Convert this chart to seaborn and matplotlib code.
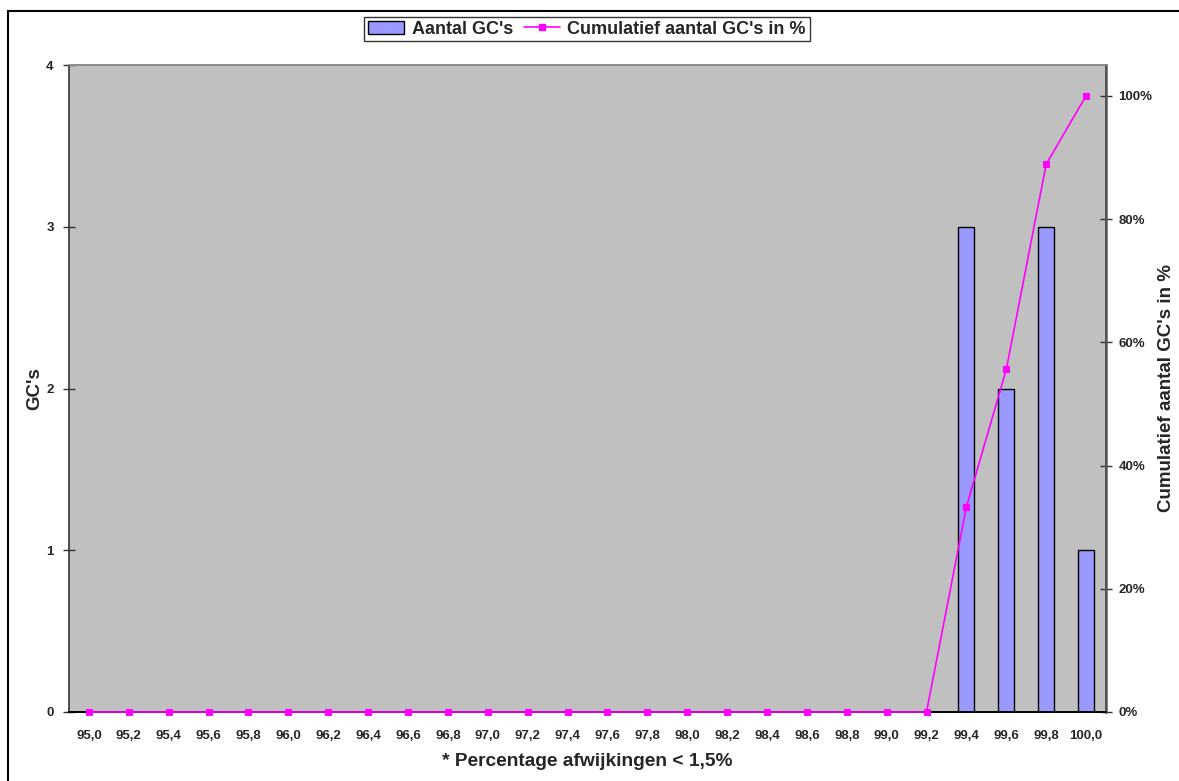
import matplotlib
matplotlib.use("Agg")
import matplotlib.pyplot as plt
import seaborn as sns
import pandas as pd
import numpy as np
from matplotlib.patches import Rectangle, Patch
from matplotlib.lines import Line2D

categories = ["95,0", "95,2", "95,4", "95,6", "95,8", "96,0", "96,2", "96,4", "96,6", "96,8",
              "97,0", "97,2", "97,4", "97,6", "97,8", "98,0", "98,2", "98,4", "98,6", "98,8",
              "99,0", "99,2", "99,4", "99,6", "99,8", "100,0"]
counts = [0, 0, 0, 0, 0, 0, 0, 0, 0, 0,
          0, 0, 0, 0, 0, 0, 0, 0, 0, 0,
          0, 0, 3, 2, 3, 1]
cumulative_pct = [0, 0, 0, 0, 0, 0, 0, 0, 0, 0,
                  0, 0, 0, 0, 0, 0, 0, 0, 0, 0,
                  0, 0, 33.3, 55.6, 88.9, 100.0]
left_ticks = [0, 1, 2, 3, 4]
right_ticks = [0, 20, 40, 60, 80, 100]
right_labels = ["0%", "20%", "40%", "60%", "80%", "100%"]

sns.set_style("white")
plt.rcParams['font.family'] = ['Liberation Sans', 'DejaVu Sans']
plt.rcParams['font.weight'] = 'bold'

df = pd.DataFrame({"cat": categories, "count": counts, "cum": cumulative_pct})

fig = plt.figure(figsize=(11.79, 7.81), dpi=100)
ax = fig.add_axes([69/1179, 1-712/781, (1106-69)/1179, (712-65)/781])
ax.set_facecolor("#C0C0C0")

sns.barplot(data=df, x="cat", y="count", ax=ax, color="#9999FF", width=0.4,
            edgecolor="black", linewidth=1.0, saturation=1)
ax.set_xlim(-0.5, len(categories) - 0.5)
ax.set_ylim(0, 4)
ax.set_yticks(left_ticks)
ax.set_yticklabels([str(t) for t in left_ticks], fontsize=9.5, fontweight='bold')
ax.set_xticks(np.arange(len(categories)))
ax.set_xticklabels(categories, fontsize=9.5, fontweight='bold')
ax.set_xticks(np.arange(len(categories) + 1) - 0.5, minor=True)
ax.tick_params(axis='x', which='major', length=0, pad=13)
ax.tick_params(axis='x', which='minor', length=8, direction='inout', width=1, color='#333333')
ax.tick_params(axis='y', which='major', length=8, direction='inout', width=1, color='#333333', pad=7)
ax.set_xlabel("* Percentage afwijkingen < 1,5%", fontsize=13.8, fontweight='bold', labelpad=8)
ax.set_ylabel("GC's", fontsize=13.5, fontweight='bold', labelpad=2)

ax2 = ax.twinx()
sns.lineplot(x=np.arange(len(categories)), y=df["cum"], ax=ax2, color="#FF00FF",
             marker='s', markersize=5, markeredgecolor="#FF00FF", linewidth=1.2,
             clip_on=False, zorder=5)
ax2.set_ylim(0, 105)
ax2.set_yticks(right_ticks)
ax2.set_yticklabels(right_labels, fontsize=9.5, fontweight='bold')
ax2.tick_params(axis='y', which='major', length=8, direction='inout', width=1, color='#333333', pad=5)
ax2.set_ylabel("Cumulatief aantal GC's in %", fontsize=13.5, fontweight='bold', labelpad=4)

for a in (ax, ax2):
    for side, sp in a.spines.items():
        sp.set_linewidth(1.2)
        sp.set_color('#333333')
    a.spines['top'].set_color('#8c8c8c')
ax2.spines['left'].set_visible(False)
ax2.spines['right'].set_color('#555555')
ax2.spines['right'].set_linewidth(1.8)
ax2.spines['bottom'].set_color('black')
ax.spines['bottom'].set_color('black')

handles = [Patch(facecolor="#9999FF", edgecolor="black", linewidth=1.0),
           Line2D([0], [0], color="#FF00FF", marker='s', markersize=5, linewidth=1.2)]
leg = fig.legend(handles, ["Aantal GC's", "Cumulatief aantal GC's in %"],
                 loc='center', bbox_to_anchor=(587/1179, 1-29/781), ncol=2,
                 frameon=True, fancybox=False, prop={'weight': 'bold', 'size': 13},
                 handlelength=2.0, handletextpad=0.4, columnspacing=0.6, borderpad=0.22,
                 borderaxespad=0)
leg.get_frame().set_edgecolor('black')
leg.get_frame().set_linewidth(1.0)

fig.patches.append(Rectangle((8/1179, -0.05), 1.2, 1 - 11/781 + 0.05, transform=fig.transFigure,
                             fill=False, edgecolor='black', linewidth=1.5))

fig.savefig("out.png", dpi=100)
